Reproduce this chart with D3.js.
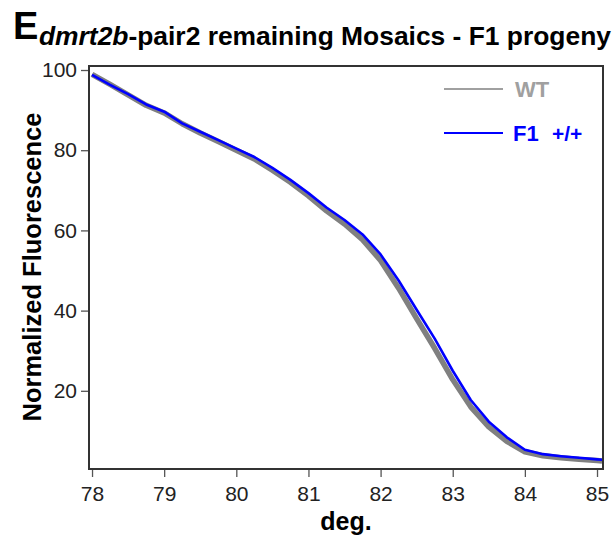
<!DOCTYPE html>
<html>
<head>
<meta charset="utf-8">
<script src="https://cdn.jsdelivr.net/npm/d3@7"></script>
<style>
  html, body { margin: 0; padding: 0; background: #fff; }
  svg { display: block; font-family: "Liberation Sans", Arial, sans-serif; }
</style>
</head>
<body>
<svg id="chart" width="613" height="540"></svg>
<script>
// Melt curve temperatures (deg.)
const temps = [78.00, 78.25, 78.50, 78.75, 79.00, 79.25, 79.50, 79.75, 80.00, 80.25,
               80.50, 80.75, 81.00, 81.25, 81.50, 81.75, 82.00, 82.25, 82.50, 82.75,
               83.00, 83.25, 83.50, 83.75, 84.00, 84.25, 84.50, 84.75, 85.00, 85.07];

// Normalized fluorescence, wild type
const wtValues = [98.9, 96.4, 93.8, 91.2, 89.3, 86.6, 84.3, 82.2, 80.0, 77.8,
                  75.0, 72.0, 68.6, 64.9, 61.6, 57.7, 52.5, 45.6, 38.0, 30.6,
                  22.8, 16.0, 11.0, 7.4, 4.8, 3.8, 3.3, 2.9, 2.6, 2.5];

// Normalized fluorescence, F1 +/+
const f1Values = [98.8, 96.3, 94.0, 91.4, 89.6, 86.7, 84.6, 82.5, 80.4, 78.3,
                  75.6, 72.6, 69.3, 65.7, 62.6, 59.0, 54.0, 47.5, 40.2, 33.0,
                  25.0, 17.7, 12.3, 8.4, 5.3, 4.2, 3.7, 3.3, 2.9, 2.8];

const xTicks = [78, 79, 80, 81, 82, 83, 84, 85];
const yTicks = [20, 40, 60, 80, 100];

const seriesNames = ["WT", "F1 +/+"];

const svg = d3.select("#chart");

// Plot frame
const plot = { left: 89, right: 603, top: 66, bottom: 469 };

const x = d3.scaleLinear().domain([77.958, 85.083]).range([plot.left, plot.right]);
const y = d3.scaleLinear().domain([0.5, 101]).range([plot.bottom, plot.top]);

// Title
const title = svg.append("g");
title.append("text")
  .attr("x", 13).attr("y", 39)
  .attr("font-size", 38).attr("font-weight", "bold").attr("fill", "#000")
  .text("E");
const sub = title.append("text")
  .attr("x", 39).attr("y", 45)
  .attr("font-size", 26.4).attr("font-weight", "bold").attr("fill", "#000");
sub.append("tspan").attr("font-style", "italic").text("dmrt2b");
sub.append("tspan").text("-pair2 remaining Mosaics - F1 progeny");

// Axes
const yAxis = d3.axisLeft(y).tickValues(yTicks).tickSize(8).tickPadding(4).tickFormat(d3.format("d"));
const xAxis = d3.axisBottom(x).tickValues(xTicks).tickSize(8).tickPadding(9).tickFormat(d3.format("d"));

const gy = svg.append("g").attr("transform", `translate(${plot.left},0)`).call(yAxis);
const gx = svg.append("g").attr("transform", `translate(0,${plot.bottom})`).call(xAxis);

[gy, gx].forEach(g => {
  g.select(".domain").remove();
  g.selectAll(".tick line").attr("stroke", "#555").attr("stroke-width", 1.3);
  g.selectAll(".tick text")
    .attr("font-size", 21)
    .attr("font-family", "Liberation Sans, Arial, sans-serif")
    .attr("fill", "#222");
});

// Curves
const line = d3.line()
  .x((d, i) => x(temps[i]))
  .y(d => y(d));

const curves = svg.append("g");
curves.append("path")
  .datum(wtValues)
  .attr("d", line)
  .attr("fill", "none")
  .attr("stroke", "#808080")
  .attr("stroke-width", 5.5)
  .attr("stroke-linejoin", "round");
curves.append("path")
  .datum(f1Values)
  .attr("d", line)
  .attr("fill", "none")
  .attr("stroke", "#0000ff")
  .attr("stroke-width", 2.6)
  .attr("stroke-linejoin", "round");

// Frame
svg.append("rect")
  .attr("x", plot.left).attr("y", plot.top)
  .attr("width", plot.right - plot.left).attr("height", plot.bottom - plot.top)
  .attr("fill", "none").attr("stroke", "#333").attr("stroke-width", 2);

// Legend
const legendColors = ["#a0a0a0", "#0000ff"];
const legend = svg.append("g");
seriesNames.forEach((name, i) => {
  const ly = 89 + i * 44;
  legend.append("line")
    .attr("x1", 444).attr("x2", 503).attr("y1", ly).attr("y2", ly)
    .attr("stroke", legendColors[i]).attr("stroke-width", 2);
  const t = legend.append("text")
    .attr("y", ly + 8)
    .attr("font-size", 22).attr("font-weight", "bold")
    .attr("fill", legendColors[i]);
  const parts = name.split(" ");
  t.append("tspan").attr("x", i === 0 ? 515 : 513).text(parts[0]);
  if (parts.length > 1) {
    t.append("tspan").attr("x", 552).attr("font-size", 21).text(parts[1]);
  }
});

// Axis titles
svg.append("text")
  .attr("x", (plot.left + plot.right) / 2).attr("y", 530)
  .attr("text-anchor", "middle")
  .attr("font-size", 25).attr("font-weight", "bold").attr("fill", "#000")
  .text("deg.");

svg.append("text")
  .attr("transform", "translate(41,267) rotate(-90)")
  .attr("text-anchor", "middle")
  .attr("font-size", 25.5).attr("font-weight", "bold").attr("fill", "#000")
  .text("Normalized Fluorescence");
</script>
</body>
</html>
